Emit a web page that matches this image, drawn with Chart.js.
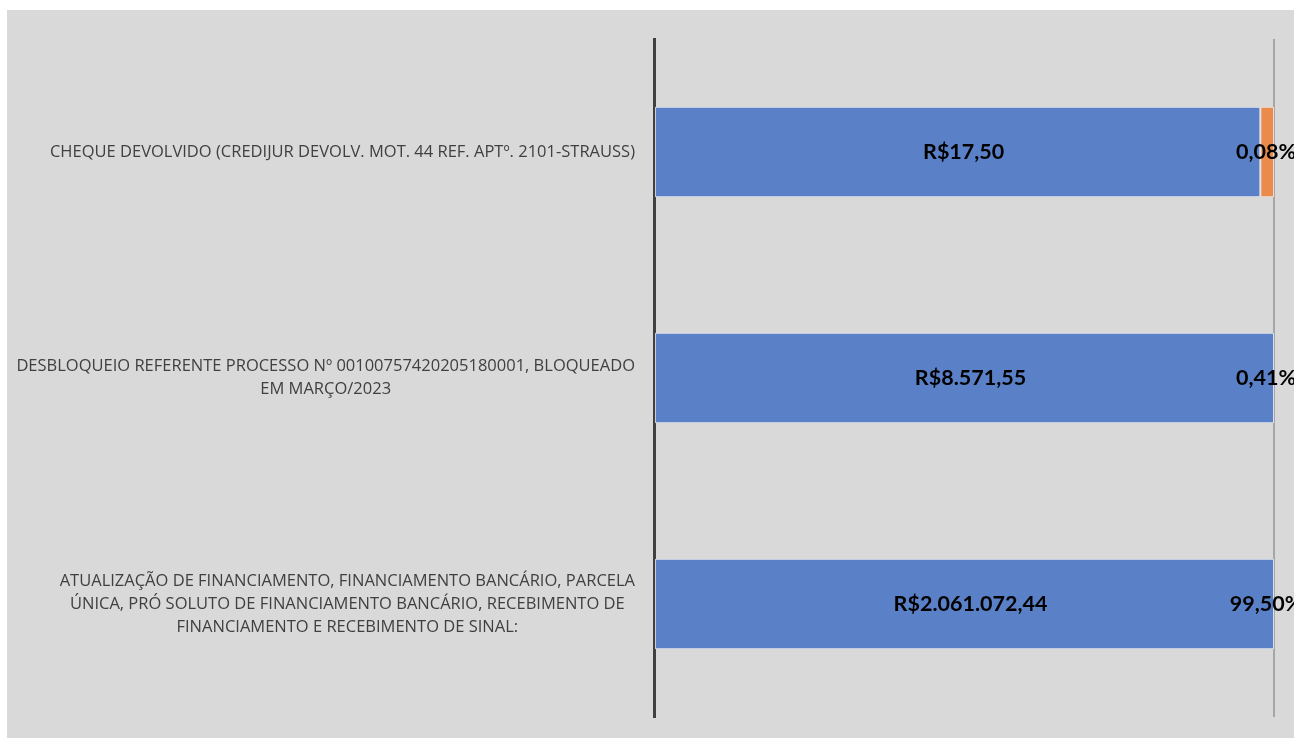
<!DOCTYPE html>
<html lang="pt-BR">
<head>
<meta charset="utf-8">
<title>Recebimentos</title>
<script src="https://cdn.jsdelivr.net/npm/chart.js@4/dist/chart.umd.min.js"></script>
<style>
  html, body { margin: 0; padding: 0; background: #ffffff; }
  #quadro {
    position: absolute;
    left: 7px;
    top: 10px;
    width: 1287px;
    height: 728px;
    background: #d9d9d9;
  }
</style>
</head>
<body>
<div id="quadro"><canvas id="graficoBarras"></canvas></div>
<script>
// categorias (de cima para baixo), já quebradas em linhas como no original
const categorias = [
  ["CHEQUE DEVOLVIDO (CREDIJUR DEVOLV. MOT. 44 REF. APTº. 2101-STRAUSS)"],
  ["DESBLOQUEIO REFERENTE PROCESSO Nº 00100757420205180001, BLOQUEADO", "EM MARÇO/2023"],
  ["ATUALIZAÇÃO DE FINANCIAMENTO, FINANCIAMENTO BANCÁRIO, PARCELA",
   "ÚNICA, PRÓ SOLUTO DE FINANCIAMENTO BANCÁRIO, RECEBIMENTO DE",
   "FINANCIAMENTO E RECEBIMENTO DE SINAL:"]
];

// valores mostrados nos rótulos
const valores = [17.50, 8571.55, 2061072.44];
const percentuais = [0.08, 0.41, 99.50];

// comprimento de cada segmento (% da barra)
const fatiaValor = [97.8, 100, 100];
const fatiaPercentual = [2.2, 0, 0];

function formatarReal(v) {
  const partes = v.toFixed(2).split(".");
  const inteiro = partes[0].replace(/\B(?=(\d{3})+(?!\d))/g, ".");
  return "R$" + inteiro + "," + partes[1];
}

function formatarPercentual(v) {
  return v.toFixed(2).replace(".", ",") + "%";
}

const textoValores = valores.map(formatarReal);
const textoPercentuais = percentuais.map(formatarPercentual);

// rótulos das categorias: cada bloco alinhado à direita, linhas centralizadas entre si
const rotulosCategorias = {
  id: "rotulosCategorias",
  afterDraw(chart) {
    const ctx = chart.ctx;
    const escalaY = chart.scales.y;
    ctx.save();
    ctx.font = "16.5px 'Open Sans'";
    ctx.fillStyle = "#404040";
    ctx.textAlign = "center";
    ctx.textBaseline = "middle";
    categorias.forEach((linhas, i) => {
      const yc = escalaY.getPixelForValue(i);
      const largura = Math.max(...linhas.map(l => ctx.measureText(l).width));
      const xc = escalaY.right - 19 - largura / 2;
      linhas.forEach((linha, j) => {
        ctx.fillText(linha, xc, yc + (j - (linhas.length - 1) / 2) * 23);
      });
    });
    ctx.restore();
  }
};

// rótulos de dados das barras
const rotulosDados = {
  id: "rotulosDados",
  afterDatasetsDraw(chart) {
    const ctx = chart.ctx;
    ctx.save();
    ctx.font = "bold 21.5px Lato";
    ctx.fillStyle = "#000000";
    ctx.textAlign = "center";
    ctx.textBaseline = "middle";
    chart.getDatasetMeta(0).data.forEach((barra, i) => {
      ctx.fillText(textoValores[i], (barra.x + barra.base) / 2 + 6, barra.y);
    });
    chart.getDatasetMeta(1).data.forEach((barra, i) => {
      ctx.fillText(textoPercentuais[i], barra.x - 8, barra.y);
    });
    ctx.restore();
  }
};

const ctx = document.getElementById("graficoBarras").getContext("2d");

new Chart(ctx, {
  type: "bar",
  data: {
    labels: categorias,
    datasets: [{
      label: "Valor",
      data: fatiaValor,
      backgroundColor: "rgb(90, 129, 200)",
      borderColor: "rgba(235, 240, 250, 0.8)",
      borderWidth: 1,
      borderSkipped: false,
      barPercentage: 0.4,
      categoryPercentage: 1.0
    }, {
      label: "Percentual",
      data: fatiaPercentual,
      backgroundColor: "rgb(235, 139, 75)",
      borderColor: "rgba(250, 235, 225, 0.8)",
      borderWidth: c => (c.raw ? 1 : 0),
      borderSkipped: false,
      barPercentage: 0.4,
      categoryPercentage: 1.0
    }]
  },
  options: {
    indexAxis: "y",
    responsive: true,
    maintainAspectRatio: false,
    animation: false,
    layout: {
      padding: { top: 29, bottom: 21, right: 20, left: 0 }
    },
    scales: {
      x: {
        stacked: true,
        min: 0,
        max: 100,
        ticks: { display: false, stepSize: 100 },
        border: { display: false },
        grid: {
          drawTicks: false,
          lineWidth: 2,
          color: c => (c.tick && c.tick.value === 100 ? "#a6a6a6" : "rgba(0,0,0,0)")
        }
      },
      y: {
        stacked: true,
        ticks: { display: false },
        grid: { display: false, drawTicks: false },
        border: { display: true, color: "#404040", width: 3 },
        afterFit(escala) {
          escala.width = 647;
        }
      }
    },
    plugins: {
      legend: { display: false },
      tooltip: { enabled: false }
    }
  },
  plugins: [rotulosCategorias, rotulosDados]
});
</script>
</body>
</html>
